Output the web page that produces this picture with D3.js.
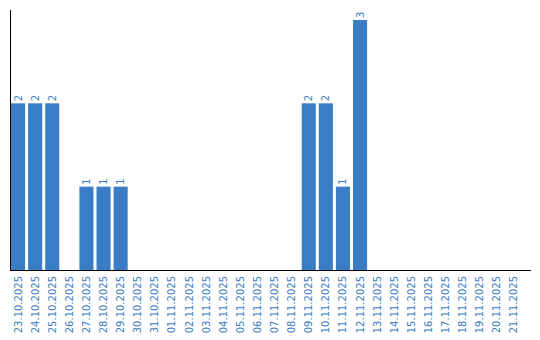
<!DOCTYPE html>
<html>
<head>
<meta charset="utf-8">
<script src="https://cdn.jsdelivr.net/npm/d3@7"></script>
<style>
  body { margin: 0; background: #fff; }
  text { font-family: "DejaVu Sans", Verdana, sans-serif; font-size: 10px; fill: #3a7cc2; }
</style>
</head>
<body>
<div id="chart"></div>
<script>
const dates = [
  "23.10.2025", "24.10.2025", "25.10.2025", "26.10.2025", "27.10.2025",
  "28.10.2025", "29.10.2025", "30.10.2025", "31.10.2025", "01.11.2025",
  "02.11.2025", "03.11.2025", "04.11.2025", "05.11.2025", "06.11.2025",
  "07.11.2025", "08.11.2025", "09.11.2025", "10.11.2025", "11.11.2025",
  "12.11.2025", "13.11.2025", "14.11.2025", "15.11.2025", "16.11.2025",
  "17.11.2025", "18.11.2025", "19.11.2025", "20.11.2025", "21.11.2025"
];
const counts = [2, 2, 2, 0, 1, 1, 1, 0, 0, 0, 0, 0, 0, 0, 0, 0, 0, 2, 2, 1, 3, 0, 0, 0, 0, 0, 0, 0, 0, 0];

const data = dates.map((d, i) => ({ date: d, count: counts[i] }));

const width = 540;
const height = 340;
const margin = { top: 10, left: 10, bottom: 70, right: 9 };
const baseY = height - margin.bottom;

const svg = d3.select("#chart")
  .append("svg")
  .attr("width", width)
  .attr("height", height);

// x: 17px per day
const xScale = d3.scaleBand()
  .domain(dates)
  .range([margin.left, margin.left + dates.length * 17])
  .paddingInner(3 / 17)
  .paddingOuter(0)
  .align(0);

const yScale = d3.scaleLinear()
  .domain([0, 3])
  .range([baseY, 20]);

// bars
svg.selectAll(".bar")
  .data(data.filter(d => d.count > 0))
  .enter()
  .append("rect")
  .attr("class", "bar")
  .attr("x", d => xScale(d.date) + 1)
  .attr("y", d => yScale(d.count))
  .attr("width", xScale.bandwidth())
  .attr("height", d => baseY - yScale(d.count))
  .attr("fill", "#3b7dc4");

// value labels, rotated
svg.selectAll(".val")
  .data(data.filter(d => d.count > 0))
  .enter()
  .append("text")
  .attr("class", "val")
  .attr("transform", d => `translate(${xScale(d.date) + 1 + xScale.bandwidth() / 2 + 3.5},${yScale(d.count) - 2}) rotate(-90)`)
  .attr("text-anchor", "start")
  .text(d => d.count);

// x axis labels
const xAxis = svg.append("g")
  .attr("transform", `translate(1,${baseY})`)
  .call(d3.axisBottom(xScale).tickSize(0).tickPadding(0));
xAxis.select(".domain").remove();
xAxis.selectAll("text")
  .attr("transform", "rotate(-90)")
  .attr("text-anchor", "end")
  .attr("x", -6)
  .attr("y", 0)
  .attr("dy", "0.35em")
  .attr("fill", "#3a7cc2");

// axis lines
svg.append("line")
  .attr("x1", margin.left + 0.5).attr("x2", margin.left + 0.5)
  .attr("y1", margin.top).attr("y2", baseY)
  .attr("stroke", "#000");
svg.append("line")
  .attr("x1", margin.left).attr("x2", width - margin.right)
  .attr("y1", baseY + 0.5).attr("y2", baseY + 0.5)
  .attr("stroke", "#000");
</script>
</body>
</html>
